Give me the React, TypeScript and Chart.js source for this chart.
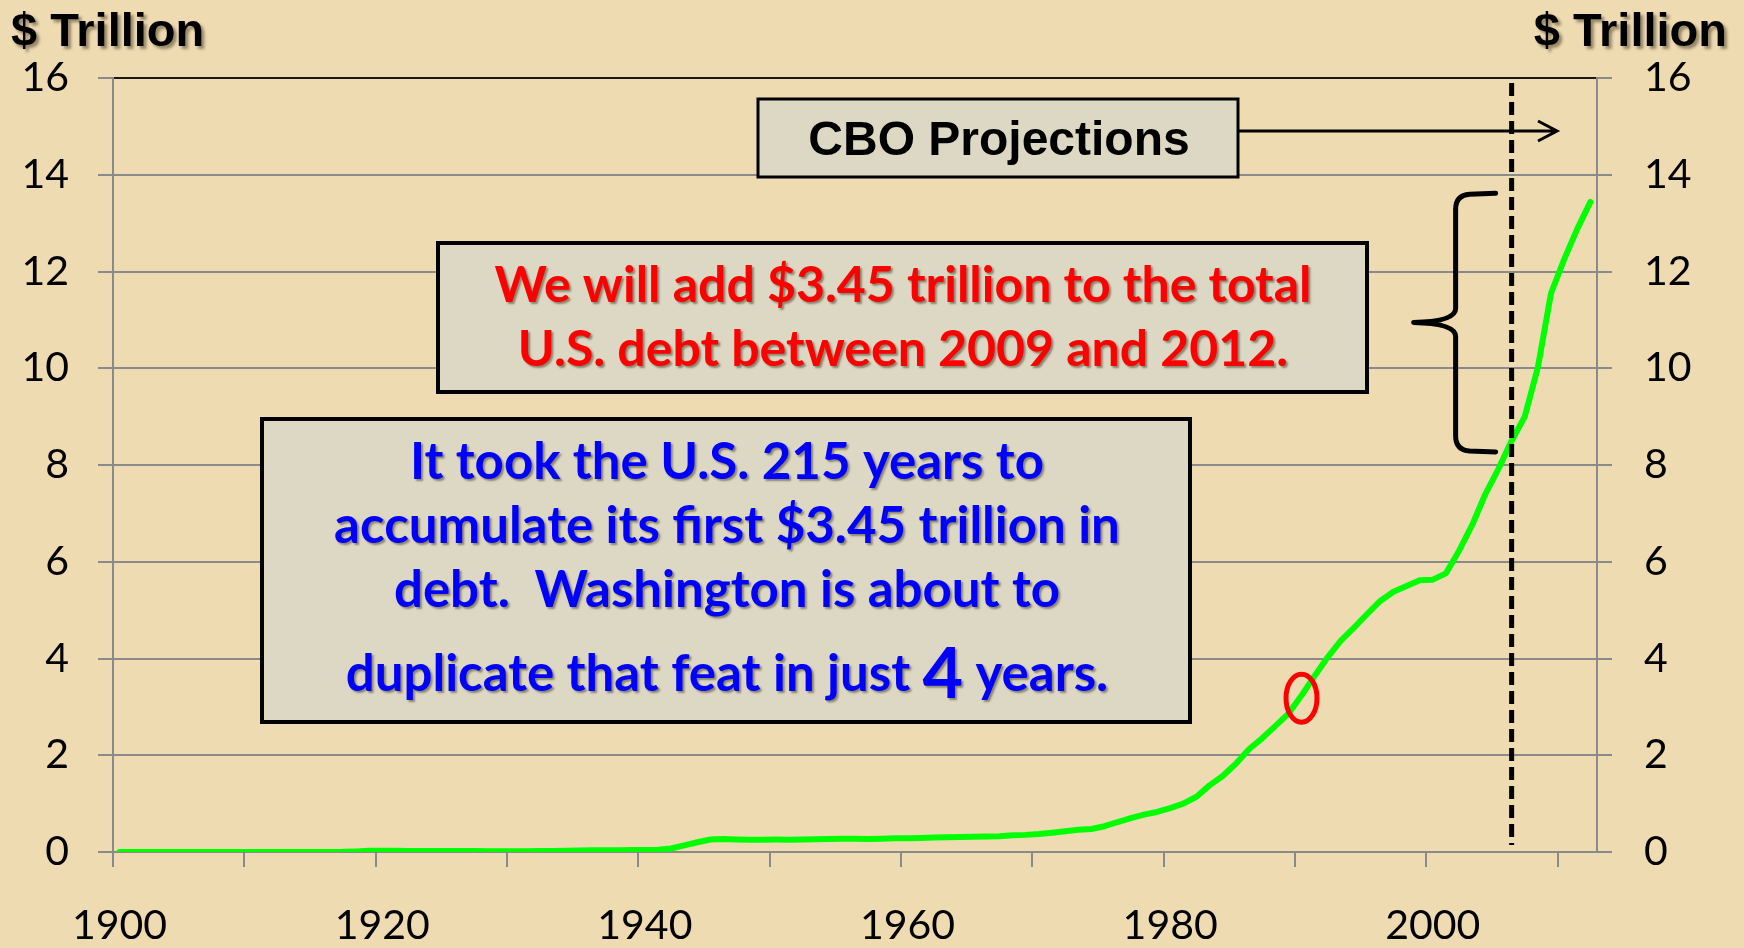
import React, { useEffect, useRef } from 'react';
import { Chart, registerables } from 'chart.js';

Chart.register(...registerables);

// ---- DATA (US total public debt, $ trillion; 2008-2012 = CBO projections) ----
const FIRST_YEAR = 1900;
const debt1900s = [0.0012, 0.0012, 0.0012, 0.0012, 0.0012, 0.0012, 0.0011, 0.0011, 0.0012, 0.0012];
const debt1910s = [0.0011, 0.0012, 0.0012, 0.0012, 0.0012, 0.0012, 0.0012, 0.003, 0.012, 0.025];
const debt1920s = [0.024, 0.024, 0.023, 0.022, 0.021, 0.020, 0.020, 0.019, 0.018, 0.017];
const debt1930s = [0.016, 0.017, 0.019, 0.023, 0.027, 0.029, 0.034, 0.036, 0.037, 0.040];
const debt1940s = [0.043, 0.049, 0.072, 0.137, 0.201, 0.259, 0.269, 0.258, 0.252, 0.253];
const debt1950s = [0.257, 0.255, 0.259, 0.266, 0.271, 0.274, 0.273, 0.271, 0.276, 0.285];
const debt1960s = [0.286, 0.289, 0.298, 0.306, 0.312, 0.317, 0.320, 0.326, 0.348, 0.354];
const debt1970s = [0.371, 0.398, 0.427, 0.458, 0.475, 0.533, 0.620, 0.699, 0.772, 0.827];
const debt1980s = [0.908, 0.998, 1.142, 1.377, 1.572, 1.823, 2.125, 2.350, 2.602, 2.857];
const debt1990s = [3.233, 3.640, 4.030, 4.370, 4.640, 4.920, 5.190, 5.380, 5.500, 5.620];
const debt2000s = [5.630, 5.760, 6.228, 6.760, 7.400, 7.920, 8.500, 9.000, 10.02, 11.55];
const debt2010s = [12.25, 12.88, 13.44];

const DEBT = [
  ...debt1900s, ...debt1910s, ...debt1920s, ...debt1930s, ...debt1940s, ...debt1950s,
  ...debt1960s, ...debt1970s, ...debt1980s, ...debt1990s, ...debt2000s, ...debt2010s,
];
const YEARS = DEBT.map((_, i) => FIRST_YEAR + i);

const Y_MIN = 0;
const Y_MAX = 16;
const Y_STEP = 2;
const X_MAJOR_EVERY = 10; // tick marks
const X_LABEL_EVERY = 20; // tick labels
const PROJECTION_YEAR = 2006; // dashed line
const CIRCLE_POINT = { x: 1990, y: 3.18 };
const BRACE_RANGE = { from: 8.27, to: 13.62 };

const AXIS_TITLE = '$ Trillion';
const CBO_TEXT = 'CBO Projections';
const RED_LINES = ['We will add $3.45 trillion to the total', 'U.S. debt between 2009 and 2012.'];
const BLUE_LINES = [
  'It took the U.S. 215 years to',
  'accumulate its first $3.45 trillion in',
  'debt.  Washington is about to',
];
const BLUE_LAST = ['duplicate that feat in just ', '4', ' years.'];

// ---- STYLE ----
const BG = '#EFDBB2';
const BOX_FILL = '#DDD8C3';
const GRID = '#8a8a8a';
const TICK_FONT = 'Lato';

function shadowText(ctx: CanvasRenderingContext2D, text: string, x: number, y: number, font: string, color: string, align: CanvasTextAlign, off = 2) {
  ctx.save();
  ctx.font = font;
  ctx.textAlign = align;
  ctx.textBaseline = 'alphabetic';
  ctx.shadowColor = 'rgba(40,30,10,0.45)';
  ctx.shadowOffsetX = off;
  ctx.shadowOffsetY = off;
  ctx.shadowBlur = off;
  ctx.fillStyle = color;
  ctx.fillText(text, x, y);
  ctx.restore();
}

function box(ctx: CanvasRenderingContext2D, x0: number, y0: number, x1: number, y1: number, lw: number) {
  ctx.save();
  ctx.fillStyle = BOX_FILL;
  ctx.fillRect(x0, y0, x1 - x0, y1 - y0);
  ctx.strokeStyle = '#000';
  ctx.lineWidth = lw;
  ctx.strokeRect(x0, y0, x1 - x0, y1 - y0);
  ctx.restore();
}

const bgPlugin = {
  id: 'parchment',
  beforeDraw(chart: any) {
    const { ctx, width, height } = chart;
    ctx.save();
    ctx.fillStyle = BG;
    ctx.fillRect(0, 0, width, height);
    ctx.restore();
  },
};

const annotPlugin = {
  id: 'annotations',
  afterDatasetsDraw(chart: any) {
    const { ctx, chartArea } = chart;
    const xs = chart.scales.x;
    const ys = chart.scales.y;

    // dashed projection line
    const dx = xs.getPixelForValue(PROJECTION_YEAR);
    ctx.save();
    ctx.strokeStyle = '#000';
    ctx.lineWidth = 5;
    ctx.setLineDash([13, 6]);
    ctx.beginPath();
    ctx.moveTo(dx, chartArea.top + 5);
    ctx.lineTo(dx, chartArea.bottom - 7);
    ctx.stroke();
    ctx.restore();

    // red ellipse
    ctx.save();
    ctx.strokeStyle = '#FF0000';
    ctx.lineWidth = 5;
    ctx.beginPath();
    ctx.ellipse(xs.getPixelForValue(CIRCLE_POINT.x), ys.getPixelForValue(CIRCLE_POINT.y), 15.5, 24, 0, 0, Math.PI * 2);
    ctx.stroke();
    ctx.restore();

    // brace
    const bt = ys.getPixelForValue(BRACE_RANGE.to);
    const bb = ys.getPixelForValue(BRACE_RANGE.from);
    const bm = (bt + bb) / 2;
    const bx = dx - 56; // vertical stem
    const tipX = dx - 98;
    const endX = dx - 16;
    ctx.save();
    ctx.strokeStyle = '#000';
    ctx.lineWidth = 5;
    ctx.lineCap = 'round';
    ctx.lineJoin = 'round';
    ctx.beginPath();
    ctx.moveTo(endX, bt);
    ctx.lineTo(bx + 14, bt + 1);
    ctx.quadraticCurveTo(bx, bt + 2, bx, bt + 16);
    ctx.lineTo(bx, bm - 14);
    ctx.quadraticCurveTo(bx, bm - 1, tipX, bm);
    ctx.quadraticCurveTo(bx, bm + 1, bx, bm + 14);
    ctx.lineTo(bx, bb - 16);
    ctx.quadraticCurveTo(bx, bb - 2, bx + 14, bb - 1);
    ctx.lineTo(endX, bb);
    ctx.stroke();
    ctx.restore();

    // CBO box + arrow
    box(ctx, 758, 99, 1238, 177, 3);
    shadowText(ctx, CBO_TEXT, 999, 155, 'bold 48px "Liberation Sans", Arial', '#000', 'center', 0);
    ctx.save();
    ctx.strokeStyle = '#000';
    ctx.lineWidth = 3;
    ctx.beginPath();
    ctx.moveTo(1238, 131);
    ctx.lineTo(1557, 131);
    ctx.moveTo(1538, 121);
    ctx.lineTo(1557, 131);
    ctx.lineTo(1538, 141);
    ctx.stroke();
    ctx.restore();

    // red box
    box(ctx, 438, 243, 1367, 392, 4);
    const redFont = 'bold 50px Lato';
    shadowText(ctx, RED_LINES[0], 903, 302, redFont, '#FF0000', 'center');
    shadowText(ctx, RED_LINES[1], 903, 366, redFont, '#FF0000', 'center');

    // blue box
    box(ctx, 262, 419, 1190, 722, 4);
    const blueFont = 'bold 51px Lato';
    const blueBase = [479, 543, 607];
    BLUE_LINES.forEach((t, i) => shadowText(ctx, t, 727, blueBase[i], blueFont, '#0000FF', 'center'));
    const bigFont = 'bold 70px Lato';
    ctx.save();
    ctx.font = blueFont;
    const w0 = ctx.measureText(BLUE_LAST[0]).width;
    const w2 = ctx.measureText(BLUE_LAST[2]).width;
    ctx.font = bigFont;
    const w1 = ctx.measureText(BLUE_LAST[1]).width;
    ctx.restore();
    const startX = 727 - (w0 + w1 + w2) / 2;
    shadowText(ctx, BLUE_LAST[0], startX, 691, blueFont, '#0000FF', 'left');
    shadowText(ctx, BLUE_LAST[1], startX + w0, 698, bigFont, '#0000FF', 'left');
    shadowText(ctx, BLUE_LAST[2], startX + w0 + w1, 691, blueFont, '#0000FF', 'left');
  },
  afterDraw(chart: any) {
    const { ctx, width } = chart;
    const f = 'bold 47px "Liberation Sans", Arial';
    shadowText(ctx, AXIS_TITLE, 11, 46, f, '#000', 'left', 3);
    shadowText(ctx, AXIS_TITLE, width - 17, 46, f, '#000', 'right', 3);
  },
};

export default function App() {
  const ref = useRef<HTMLCanvasElement | null>(null);

  useEffect(() => {
    document.body.style.margin = '0';
    let chart: Chart | null = null;
    let cancelled = false;
    const make = () => {
      if (cancelled || !ref.current) return;
      const xTicks = YEARS.filter((y) => y % X_MAJOR_EVERY === 0).map((y) => y - 0.5);
      const tickFont = { family: TICK_FONT, size: 41 };
      chart = new Chart(ref.current, {
        type: 'line',
        data: {
          datasets: [
            {
              data: YEARS.map((yr, i) => ({ x: yr, y: DEBT[i] })),
              borderColor: '#00FF00',
              borderWidth: 6,
              pointRadius: 0,
              tension: 0,
              fill: false,
              borderJoinStyle: 'round',
              borderCapStyle: 'round',
            },
          ],
        },
        options: {
          animation: false,
          responsive: true,
          maintainAspectRatio: false,
          layout: { padding: { top: 78, left: 0, right: 0, bottom: 0 } },
          plugins: { legend: { display: false }, tooltip: { enabled: false } },
          scales: {
            x: {
              type: 'linear',
              min: FIRST_YEAR - 0.5,
              max: YEARS[YEARS.length - 1] + 0.5,
              afterBuildTicks: (s: any) => {
                s.ticks = xTicks.map((v) => ({ value: v }));
              },
              afterFit: (s: any) => {
                s.height = 96;
              },
              ticks: {
                autoSkip: false,
                maxRotation: 0,
                minRotation: 0,
                labelOffset: 6.56,
                padding: 34,
                color: '#000',
                font: tickFont,
                callback: (v: any) => {
                  const yr = Math.round(Number(v) + 0.5);
                  return yr % X_LABEL_EVERY === 0 ? String(yr) : '';
                },
              },
              grid: { drawOnChartArea: false, tickLength: 15, color: GRID, tickColor: GRID, lineWidth: 2, tickWidth: 2 },
              border: { color: GRID, width: 2 },
            },
            y: {
              position: 'left',
              min: Y_MIN,
              max: Y_MAX,
              afterFit: (s: any) => {
                s.width = 113;
              },
              ticks: { stepSize: Y_STEP, padding: 29, color: '#000', font: tickFont },
              grid: {
                color: (c: any) => (c.tick && c.tick.value === Y_MAX ? '#1a1a1a' : GRID),
                lineWidth: 2,
                tickLength: 15,
                tickColor: GRID,
                tickWidth: 2,
              },
              border: { color: GRID, width: 2 },
            },
            y2: {
              position: 'right',
              min: Y_MIN,
              max: Y_MAX,
              afterFit: (s: any) => {
                s.width = 147;
              },
              ticks: { stepSize: Y_STEP, padding: 32, color: '#000', font: tickFont },
              grid: { drawOnChartArea: false, tickLength: 15, color: GRID, tickColor: GRID, lineWidth: 2, tickWidth: 2 },
              border: { color: GRID, width: 2 },
            },
          },
        },
        plugins: [bgPlugin, annotPlugin],
      } as any);
    };
    const fonts = ['41px Lato', 'bold 50px Lato', 'bold 47px "Liberation Sans"'];
    Promise.all(fonts.map((f) => (document as any).fonts.load(f))).then(make, make);
    return () => {
      cancelled = true;
      if (chart) chart.destroy();
    };
  }, []);

  return (
    <div style={{ position: 'absolute', left: 0, top: 0, width: 1744, height: 948, background: BG }}>
      <canvas ref={ref} />
    </div>
  );
}
